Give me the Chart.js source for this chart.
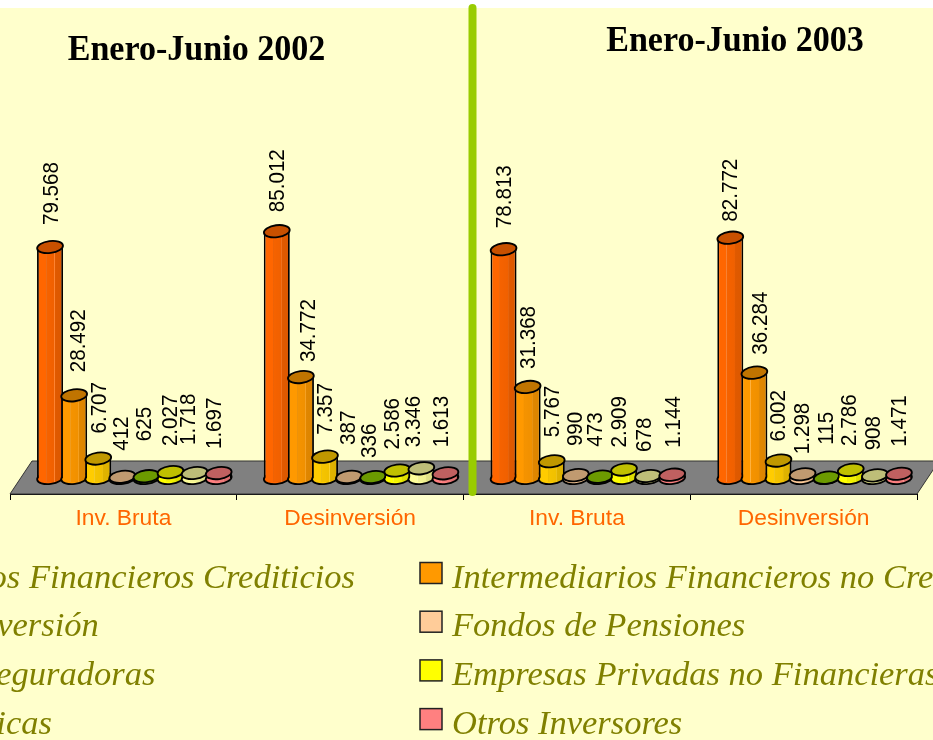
<!DOCTYPE html>
<html>
<head>
<meta charset="utf-8">
<title>Enero-Junio 2002 / 2003</title>
<script src="https://cdn.jsdelivr.net/npm/chart.js@4"></script>
<style>
body { margin: 0; background: #ffffff; overflow: hidden; }
canvas { display: block; }
</style>
</head>
<body>
<canvas id="chart" width="933" height="740"></canvas>
<script>
const categories = ["Inv. Bruta", "Desinversión", "Inv. Bruta", "Desinversión"];

const seriesNames = [
    "Intermediarios Financieros Crediticios",
    "Intermediarios Financieros no Crediticios",
    "Fondos de Inversión",
    "Fondos de Pensiones",
    "Entidades Aseguradoras",
    "Empresas Privadas no Financieras",
    "Personas Físicas",
    "Otros Inversores"
];

const finCrediticios = [79568, 85012, 78813, 82772];
const finNoCrediticios = [28492, 34772, 31368, 36284];
const fondosInversion = [6707, 7357, 5767, 6002];
const fondosPensiones = [412, 387, 990, 1298];
const aseguradoras = [625, 336, 473, 115];
const privadas = [2027, 2586, 2909, 2786];
const fisicas = [1718, 3346, 678, 908];
const otros = [1697, 1613, 1144, 1471];

const seriesValues = [finCrediticios, finNoCrediticios, fondosInversion, fondosPensiones, aseguradoras, privadas, fisicas, otros];
const bodyColors = ["#ff6600", "#ff9900", "#ffcc00", "#ffcc99", "#669900", "#ffff00", "#ffff99", "#ff8080"];
const capColors = ["#c85000", "#c07400", "#c09800", "#c09a70", "#6c9a00", "#c0c000", "#bebe78", "#c06060"];

const panelTitles = ["Enero-Junio 2002", "Enero-Junio 2003"];

// the original's hand-placed data labels: gap above the bar top, sideways nudge
const labelLift = [
    [22, 19, 21, 16],
    [23, 15, 18, 18],
    [25, 22, 24, 19],
    [26, 32, 29, 20],
    [35, 19, 30, 33],
    [26, 21, 22, 24],
    [28, 21, 24, 25],
    [24, 26, 27, 27]
];
const labelNudge = [
    [2, 1, 1, 1],
    [5, 8, 1, 6],
    [2, 1, 1, 0],
    [-1, 0, 0, 0],
    [-2, -3, -4, 0],
    [0, -4, -4, -1],
    [-6, -8, -3, -1],
    [-4, -4, 2, 1]
];

const depthShift = 11;

function formatValue(v) {
    return String(v).replace(/\B(?=(\d{3})+$)/g, ".");
}

function drawFloor(ctx, area) {
    ctx.save();
    ctx.beginPath();
    ctx.moveTo(area.left, area.bottom);
    ctx.lineTo(area.right, area.bottom);
    ctx.lineTo(area.right + 22, area.bottom - 33);
    ctx.lineTo(area.left + 22, area.bottom - 33);
    ctx.closePath();
    ctx.fillStyle = "#808080";
    ctx.fill();
    ctx.strokeStyle = "#333333";
    ctx.lineWidth = 1;
    ctx.stroke();
    ctx.restore();
}

function drawDisc(ctx, x, y, rx, ry, fill) {
    ctx.beginPath();
    ctx.ellipse(x, y, rx, ry, -0.13, 0, Math.PI * 2);
    ctx.fillStyle = fill;
    ctx.fill();
    ctx.strokeStyle = "#000000";
    ctx.lineWidth = 1.8;
    ctx.stroke();
}

// lighter on the left, darker on the right, like the cylinder facets
function shadeBar(ctx, bar) {
    const left = bar.x - bar.width / 2;
    const g = ctx.createLinearGradient(left, 0, left + bar.width, 0);
    g.addColorStop(0, "rgba(0,0,0,0)");
    g.addColorStop(0.34, "rgba(0,0,0,0)");
    g.addColorStop(0.35, "rgba(255,255,255,0.25)");
    g.addColorStop(0.38, "rgba(0,0,0,0.04)");
    g.addColorStop(0.66, "rgba(0,0,0,0.06)");
    g.addColorStop(0.67, "rgba(255,255,255,0.2)");
    g.addColorStop(0.7, "rgba(0,0,0,0.12)");
    g.addColorStop(1, "rgba(0,0,0,0.14)");
    ctx.fillStyle = g;
    ctx.fillRect(left + 1, bar.y, bar.width - 2, bar.base - bar.y + 4);
}

const cylinderPlugin = {
    id: "cylinders",
    beforeDraw(chart) {
        const ctx = chart.ctx;
        ctx.save();
        ctx.fillStyle = "#ffffcc";
        ctx.fillRect(0, 8, chart.width, chart.height - 8);
        ctx.restore();
    },
    beforeDatasetsDraw(chart) {
        drawFloor(chart.ctx, chart.chartArea);
    },
    // the library draws the last dataset first; the picture wants it on top
    beforeDatasetDraw() {
        return false;
    },
    afterDatasetsDraw(chart) {
        const ctx = chart.ctx;
        ctx.save();
        ctx.translate(depthShift, 0);
        seriesValues.forEach((values, i) => {
            const meta = chart.getDatasetMeta(i);
            meta.data.forEach((bar) => {
                drawDisc(ctx, bar.x, bar.base, bar.width / 2, 6, bodyColors[i]);
            });
            meta.controller.draw();
            meta.data.forEach((bar) => {
                shadeBar(ctx, bar);
                drawDisc(ctx, bar.x, bar.y, bar.width / 2, 6, capColors[i]);
            });
        });
        ctx.fillStyle = "#000000";
        ctx.font = "22.4px 'Liberation Sans'";
        ctx.textAlign = "left";
        ctx.textBaseline = "middle";
        seriesValues.forEach((values, i) => {
            chart.getDatasetMeta(i).data.forEach((bar, j) => {
                ctx.save();
                ctx.translate(bar.x + labelNudge[i][j], bar.y - labelLift[i][j]);
                ctx.rotate(-Math.PI / 2);
                ctx.scale(0.92, 1);
                ctx.fillText(formatValue(values[j]), 0, 0);
                ctx.restore();
            });
        });
        ctx.restore();
        drawDivider(ctx);
        drawTitles(ctx);
        drawLegend(ctx);
    }
};

function drawDivider(ctx) {
    ctx.save();
    ctx.strokeStyle = "#99cc00";
    ctx.lineWidth = 8;
    ctx.lineCap = "round";
    ctx.beginPath();
    ctx.moveTo(472.5, 8);
    ctx.lineTo(472.5, 492);
    ctx.stroke();
    ctx.restore();
}

function drawTitle(ctx, text, x, y) {
    ctx.save();
    ctx.translate(x, y);
    ctx.scale(0.946, 1);
    ctx.fillText(text, 0, 0);
    ctx.restore();
}

function drawTitles(ctx) {
    ctx.save();
    ctx.fillStyle = "#000000";
    ctx.font = "bold 36px 'Liberation Serif'";
    ctx.textAlign = "center";
    ctx.textBaseline = "middle";
    drawTitle(ctx, panelTitles[0], 196.5, 50.5);
    drawTitle(ctx, panelTitles[1], 735, 41.5);
    ctx.restore();
}

function drawLegend(ctx) {
    ctx.save();
    ctx.font = "italic 34.5px 'Liberation Serif'";
    ctx.textBaseline = "alphabetic";
    const leftText = 355 - ctx.measureText(seriesNames[0]).width;
    seriesNames.forEach((name, i) => {
        const row = Math.floor(i / 2);
        const boxY = 562.5 + row * 48.7;
        const textX = i % 2 === 0 ? leftText : 452;
        const boxX = textX - 32;
        ctx.fillStyle = bodyColors[i];
        ctx.fillRect(boxX, boxY, 22, 21);
        ctx.strokeStyle = "#222222";
        ctx.lineWidth = 1.5;
        ctx.strokeRect(boxX, boxY, 22, 21);
        ctx.fillStyle = "#808000";
        ctx.fillText(name, textX, boxY + 25);
    });
    ctx.restore();
}

const datasets = seriesValues.map((values, i) => ({
    label: seriesNames[i],
    data: values,
    backgroundColor: bodyColors[i],
    borderColor: "#000000",
    borderWidth: { left: 1.8, right: 1.8, top: 0, bottom: 0 },
    categoryPercentage: 0.85,
    barPercentage: 1.08
}));

new Chart(document.getElementById("chart"), {
    type: "bar",
    data: { labels: categories, datasets: datasets },
    plugins: [cylinderPlugin],
    options: {
        responsive: false,
        animation: false,
        layout: { padding: { left: 10, right: 16, top: 8, bottom: 0 } },
        plugins: {
            legend: { display: false },
            tooltip: { enabled: false }
        },
        scales: {
            x: {
                afterFit(scale) { scale.height = 246; },
                border: { color: "#000000", width: 1 },
                grid: { offset: true, drawOnChartArea: false, color: "#000000", tickLength: 6 },
                ticks: {
                    color: "#ff6600",
                    padding: 5,
                    maxRotation: 0,
                    font: { family: "'Liberation Sans'", size: 22.8 }
                }
            },
            y: { display: false, min: -5512, max: 161900 }
        }
    }
});
</script>
</body>
</html>
